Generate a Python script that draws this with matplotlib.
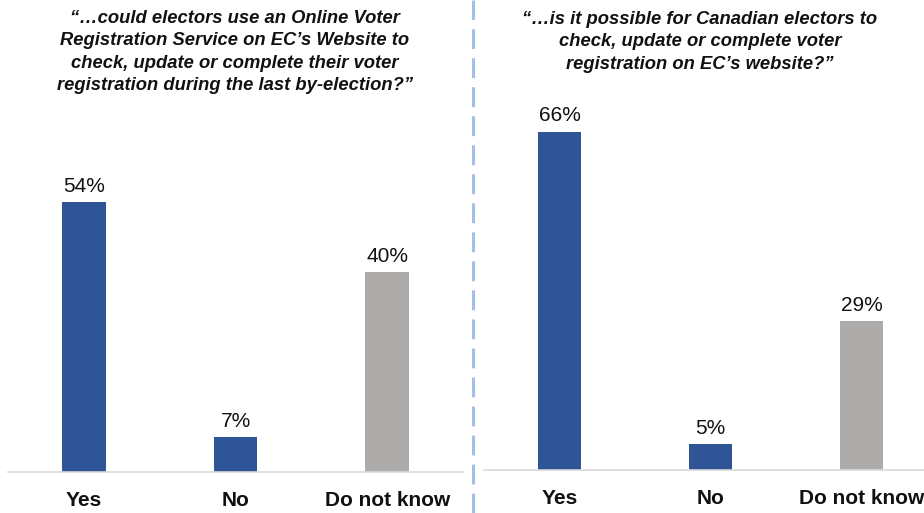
import matplotlib
matplotlib.use("Agg")
import matplotlib.pyplot as plt
from matplotlib.lines import Line2D

categories = ["Yes", "No", "Do not know"]
left_values = [54, 7, 40]
right_values = [66, 5, 29]
left_title = ("\u201c\u2026could electors use an Online Voter\n"
              "Registration Service on EC\u2019s Website to\n"
              "check, update or complete their voter\n"
              "registration during the last by-election?\u201d")
right_title = ("\u201c\u2026is it possible for Canadian electors to\n"
               "check, update or complete voter\n"
               "registration on EC\u2019s website?\u201d")

BLUE = "#2f5597"
GREY = "#aeabab"
colors = [BLUE, BLUE, GREY]

plt.rcParams["font.family"] = ["Liberation Sans", "DejaVu Sans"]

W, H = 924, 513
fig = plt.figure(figsize=(W / 100, H / 100), dpi=100)


def px_axes(x0, y_base, width, height):
    return fig.add_axes([x0 / W, (H - y_base) / H, width / W, height / H])


def panel(ax, values, ymax):
    xs = range(len(categories))
    ax.bar(xs, values, width=0.29, color=colors, zorder=2)
    for x, v in zip(xs, values):
        ax.text(x, v + ymax * 0.018, f"{v}%", ha="center", va="bottom",
                fontsize=15, color="#111111")
    ax.set_xlim(-0.5, 2.5)
    ax.set_ylim(0, ymax)
    ax.set_xticks(list(xs))
    ax.set_xticklabels(categories, fontsize=15, fontweight="bold", color="#111111")
    ax.tick_params(axis="x", length=0, pad=14)
    ax.set_yticks([])
    for s in ("top", "right", "left"):
        ax.spines[s].set_visible(False)
    ax.spines["bottom"].set_color("#d9d9d9")
    ax.spines["bottom"].set_linewidth(1.2)
    ax.patch.set_alpha(0)


ax1 = px_axes(8, 472, 455, 350)
panel(ax1, left_values, 70)

ax2 = px_axes(484, 470, 453, 359)
panel(ax2, right_values, 70)

fig.text(235 / W, 1 - 10 / H, left_title, ha="center", va="top", fontsize=13.2,
         fontweight="bold", style="italic", linespacing=1.42, color="#111111")
fig.text(700 / W, 1 - 11 / H, right_title, ha="center", va="top", fontsize=13.2,
         fontweight="bold", style="italic", linespacing=1.42, color="#111111")

fig.add_artist(Line2D([473 / W, 473 / W], [0, 1], transform=fig.transFigure,
                      color="#a4c0e8", linewidth=2.2, linestyle=(0, (6.5, 3))))

fig.savefig("out.png", dpi=100)
